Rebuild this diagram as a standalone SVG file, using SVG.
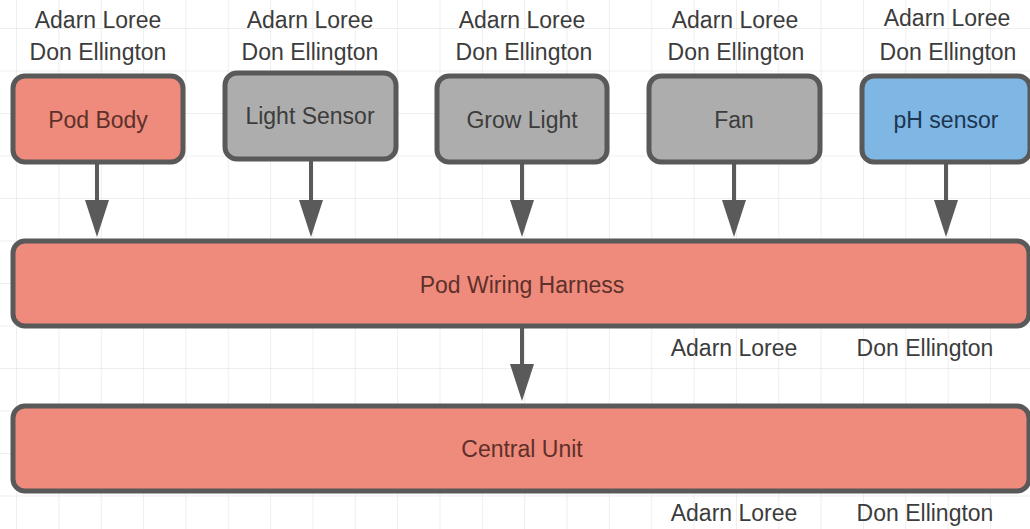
<svg xmlns="http://www.w3.org/2000/svg" width="1030" height="529" viewBox="0 0 1030 529">
<style>
text{font-family:"Liberation Sans",Arial,sans-serif;font-size:23px;text-anchor:middle;fill:#3c3c3c}
.n{stroke:#595959;stroke-width:5}
.red{fill:#ee8b7c}
.gray{fill:#adadad}
.blue{fill:#7eb6e4}
.tr{fill:#5e3029}
.tb{fill:#1d3550}
.c{stroke:#5a5a5a;stroke-width:4;fill:none}
.h{fill:#5a5a5a}
</style>
<defs>
<pattern id="grid" x="16" y="28" width="42.35" height="42.5" patternUnits="userSpaceOnUse">
<path d="M0 0V42.5M0 0H42.35" fill="none" stroke="#dedede" stroke-width="1"/>
</pattern>
</defs>
<rect width="1030" height="529" fill="#fff"/>
<rect width="1030" height="529" fill="url(#grid)"/>
<g id="connectors">
<path class="c" d="M97 163V202"/><path class="h" d="M85 200H109L97 237Z"/>
<path class="c" d="M311 160V202"/><path class="h" d="M299 200H323L311 237Z"/>
<path class="c" d="M522 163V202"/><path class="h" d="M510 200H534L522 237Z"/>
<path class="c" d="M734 163V202"/><path class="h" d="M722 200H746L734 237Z"/>
<path class="c" d="M946 163V202"/><path class="h" d="M934 200H958L946 237Z"/>
<path class="c" d="M522 327V366"/><path class="h" d="M510 364H534L522 401Z"/>
</g>
<g id="pod-body">
<text x="98" y="28">Adarn Loree</text><text x="98" y="60">Don Ellington</text>
<rect class="n red" x="13" y="76" width="170" height="86" rx="12"/>
<text class="tr" x="98" y="128">Pod Body</text>
</g>
<g id="light-sensor">
<text x="310" y="28">Adarn Loree</text><text x="310" y="60">Don Ellington</text>
<rect class="n gray" x="225" y="73" width="171" height="86" rx="12"/>
<text x="310" y="124">Light Sensor</text>
</g>
<g id="grow-light">
<text x="522" y="28">Adarn Loree</text><text x="524" y="60">Don Ellington</text>
<rect class="n gray" x="437" y="76" width="170" height="86" rx="12"/>
<text x="522" y="128">Grow Light</text>
</g>
<g id="fan">
<text x="735" y="28">Adarn Loree</text><text x="736" y="60">Don Ellington</text>
<rect class="n gray" x="649" y="76" width="171" height="86" rx="12"/>
<text x="734" y="128">Fan</text>
</g>
<g id="ph-sensor">
<text x="947" y="26">Adarn Loree</text><text x="948" y="60">Don Ellington</text>
<rect class="n blue" x="862" y="76" width="168" height="86" rx="12"/>
<text class="tb" x="946" y="128">pH sensor</text>
</g>
<g id="pod-wiring-harness">
<rect class="n red" x="13" y="241" width="1016" height="85" rx="12"/>
<text class="tr" x="522" y="293">Pod Wiring Harness</text>
<text x="734" y="356">Adarn Loree</text><text x="925" y="356">Don Ellington</text>
</g>
<g id="central-unit">
<rect class="n red" x="13" y="406" width="1016" height="85" rx="12"/>
<text class="tr" x="522" y="457">Central Unit</text>
<text x="734" y="521">Adarn Loree</text><text x="925" y="521">Don Ellington</text>
</g>
</svg>
